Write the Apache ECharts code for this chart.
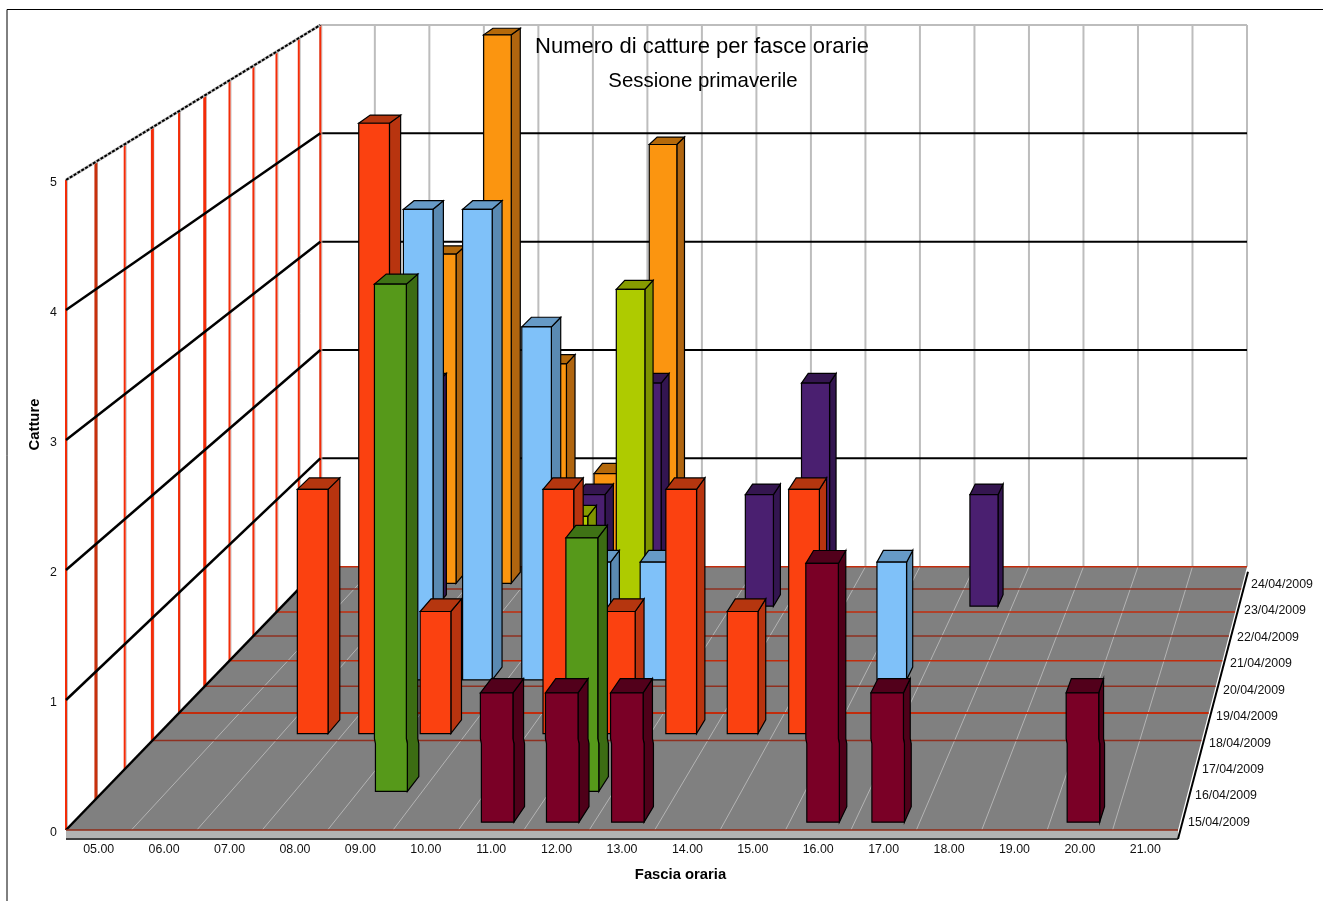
<!DOCTYPE html>
<html lang="en">
<head>
    <meta charset="UTF-8">
    <title>Numero di catture per fasce orarie</title>
    <script src="https://cdn.jsdelivr.net/npm/echarts@6/dist/echarts.min.js"></script>
    <style>
        html, body { margin: 0; padding: 0; background: #fff; }
        #chart_wrap { width: 1323px; height: 901px; }
    </style>
</head>
<body>
<div id="chart_wrap"></div>
<script>
    var hours = ["05.00", "06.00", "07.00", "08.00", "09.00", "10.00", "11.00", "12.00", "13.00",
        "14.00", "15.00", "16.00", "17.00", "18.00", "19.00", "20.00", "21.00"];
    var dates = ["15/04/2009", "16/04/2009", "17/04/2009", "18/04/2009", "19/04/2009",
        "20/04/2009", "21/04/2009", "22/04/2009", "23/04/2009", "24/04/2009"];

    // catture per fascia oraria, 05.00 -> 21.00
    var catture15 = [0, 0, 0, 0, 0, 0, 1, 1, 1, 0, 0, 2, 1, 0, 0, 1, 0];
    var catture16 = [0, 0, 0, 0, 4, 0, 0, 2, 0, 0, 0, 0, 0, 0, 0, 0, 0];
    var catture17 = [0, 0, 0, 0, 0, 0, 0, 0, 0, 0, 0, 0, 0, 0, 0, 0, 0];
    var catture18 = [0, 0, 2, 5, 1, 0, 2, 1, 2, 1, 2, 0, 0, 0, 0, 0, 0];
    var catture19 = [0, 0, 0, 0, 0, 0, 0, 0, 0, 0, 0, 0, 0, 0, 0, 0, 0];
    var catture20 = [0, 0, 0, 4, 4, 3, 1, 1, 0, 0, 0, 1, 0, 0, 0, 0, 0];
    var catture21 = [0, 0, 0, 0, 0, 0, 0, 0, 0, 0, 0, 0, 0, 0, 0, 0, 0];
    var catture22 = [0, 0, 0, 0, 0, 1, 3, 0, 0, 0, 0, 0, 0, 0, 0, 0, 0];
    var catture23 = [0, 0, 2, 0, 0, 1, 2, 0, 1, 2, 0, 0, 1, 0, 0, 0, 0];
    var catture24 = [0, 0, 3, 5, 2, 1, 4, 0, 0, 0, 0, 0, 0, 0, 0, 0, 0];
    var cattureByDate = [catture15, catture16, catture17, catture18, catture19,
        catture20, catture21, catture22, catture23, catture24];

    // front, side, top
    var faceColors = [
        ["#7a0026", "#4f0019", "#52001b"],
        ["#56991a", "#3c6c13", "#3f7215"],
        ["#808080", "#606060", "#606060"],
        ["#fb4110", "#b8340f", "#b5360f"],
        ["#808080", "#606060", "#606060"],
        ["#7fc1f9", "#5a8ab2", "#669ac6"],
        ["#808080", "#606060", "#606060"],
        ["#aecb00", "#7f9300", "#869c00"],
        ["#4a1f70", "#331550", "#351650"],
        ["#fb9510", "#b0650f", "#b5690a"]
    ];

    // the 3D box: everything shrinks towards a vanishing point with depth (0 front, 1 back)
    var VANISH_X = 1592;
    var VANISH_Y = -750;
    var DEPTH_K = 0.2;
    var FONT = "Liberation Sans";
    // the original picture is slightly offset below the 18/04 floor line
    var KINK_DEPTH = 0.3;
    var KINK_SHIFT = 1;

    function project(api, cat, value, depth) {
        var band = api.size([1, 0])[0];
        var p = api.coord([0, value]);
        var s = 1 / (1 + DEPTH_K * depth);
        var x = p[0] - band / 2 + band * cat;
        return [VANISH_X + s * (x - VANISH_X), VANISH_Y + s * (p[1] - VANISH_Y)];
    }

    function line(p1, p2, color, width) {
        return {
            type: "line",
            shape: {x1: p1[0], y1: p1[1], x2: p2[0], y2: p2[1]},
            style: {stroke: color, lineWidth: width}
        };
    }

    function poly(points, color) {
        return {
            type: "polygon",
            shape: {points: points},
            style: {fill: color, stroke: "#000", lineWidth: 1.2}
        };
    }

    // vertical edge from top to bottom, with the little step if it crosses kinkY
    function edge(top, bottom, kinkY) {
        if (bottom[1] <= kinkY || top[1] >= kinkY) {
            return [top, bottom];
        }
        var k = (kinkY - top[1]) / (bottom[1] - top[1]);
        var xk = top[0] + (bottom[0] - top[0]) * k;
        return [top, [xk, kinkY - 2], [xk + KINK_SHIFT, kinkY + 3], [bottom[0] + KINK_SHIFT, bottom[1]]];
    }

    function face(topA, bottomA, topB, bottomB, kinkY, color) {
        // down one edge, back up the other
        var pts = edge(topA, bottomA, kinkY).concat(edge(topB, bottomB, kinkY).reverse());
        return poly(pts, color);
    }

    function renderBox(params, api) {
        var n = hours.length;
        var rows = dates.length;
        var c = [];
        var i;

        // back wall
        c.push({
            type: "polygon",
            shape: {points: [project(api, 0, 5, 1), project(api, n, 5, 1), project(api, n, 0, 1), project(api, 0, 0, 1)]},
            style: {fill: "#fff"}
        });
        for (i = 0; i <= n; i++) {
            c.push(line(project(api, i, 5, 1), project(api, i, 0, 1), "#bdbdbd", 2));
        }
        for (i = 1; i <= 5; i++) {
            c.push(line(project(api, 0, i, 1), project(api, n, i, 1), i === 5 ? "#bdbdbd" : "#000", 2));
        }

        // left wall
        for (i = 0; i <= rows; i++) {
            var d = i / rows;
            var vTop = project(api, 0, 5, d);
            var vBot = project(api, 0, 0, d);
            c.push(line([vTop[0] + 1.5, vTop[1]], [vBot[0] + 1.5, vBot[1]], "#c4c4c4", 1));
            c.push(line(vTop, vBot, i === 1 ? "#c8300c" : "#f32c08", i === 1 || i === 3 || i === 5 ? 3 : 2));
        }
        for (i = 1; i <= 4; i++) {
            c.push(line(project(api, 0, i, 0), project(api, 0, i, 1), "#000", 2.5));
        }
        c.push(line(project(api, 0, 5, 0), project(api, 0, 5, 1), "#bdbdbd", 3));
        var topLine = line(project(api, 0, 5, 0), project(api, 0, 5, 1), "#000", 2);
        topLine.style.lineDash = [3, 1.5];
        c.push(topLine);

        // floor
        c.push({
            type: "polygon",
            shape: {points: [project(api, 0, 0, 0), project(api, n, 0, 0), project(api, n, 0, 1), project(api, 0, 0, 1)]},
            style: {fill: "#808080"}
        });
        for (i = 1; i < n; i++) {
            c.push(line(project(api, i, 0, 0), project(api, i, 0, 1), "#b4b4b4", 1));
        }
        for (i = 3; i <= rows; i++) {
            c.push(line(project(api, 0, 0, i / rows), project(api, n, 0, i / rows), i % 2 ? "#8f3020" : "#c22c0c", i === 4 ? 2 : 1.5));
        }
        c.push(line(project(api, 0, 0, 0), project(api, 0, 0, 1), "#000", 2.5));

        // front edge of the floor
        var fl = project(api, 0, 0, 0);
        var fr = project(api, n, 0, 0);
        var br = project(api, n, 0, 1);
        c.push({
            type: "rect",
            shape: {x: fl[0], y: fl[1], width: fr[0] - fl[0], height: 8},
            style: {fill: "#b2b2b2"}
        });
        c.push(line([fl[0], fl[1] + 9], [fr[0], fr[1] + 9], "#000", 1.5));
        c.push(line(fl, fr, "#8f2a16", 1.5));
        c.push(line([fr[0], fr[1] + 9], [br[0] + 1, br[1] + 5], "#000", 2));
        return {type: "group", children: c};
    }

    function makeRenderBar(row) {
        return function (params, api) {
            var cat = api.value(0);
            var v = api.value(1);
            if (!v) {
                return null;
            }
            var dFront = (row + 0.25) / dates.length;
            var dBack = (row + 0.75) / dates.length;
            var x1 = cat + 0.25;
            var x2 = cat + 0.75;
            var colors = faceColors[row];
            var kinkY = project(api, 0, 0, KINK_DEPTH)[1];
            return {
                type: "group",
                children: [
                    face(project(api, x2, v, dFront), project(api, x2, 0, dFront), project(api, x2, v, dBack), project(api, x2, 0, dBack), kinkY, colors[1]),
                    poly([project(api, x1, v, dFront), project(api, x2, v, dFront), project(api, x2, v, dBack), project(api, x1, v, dBack)], colors[2]),
                    face(project(api, x1, v, dFront), project(api, x1, 0, dFront), project(api, x2, v, dFront), project(api, x2, 0, dFront), kinkY, colors[0])
                ]
            };
        };
    }

    function renderDateLabel(params, api) {
        var corner = project(api, hours.length, 0, 0);
        var row = api.value(0);
        return {
            type: "text",
            style: {
                x: corner[0] + 10 + 7 * row,
                y: corner[1] - 7.5 - 26.45 * row,
                text: dates[row],
                fill: "#111",
                font: "12.4px '" + FONT + "'",
                textAlign: "left",
                textVerticalAlign: "middle"
            }
        };
    }

    var series = [{
        type: "custom",
        name: "box",
        silent: true,
        data: [[0, 0]],
        renderItem: renderBox
    }];

    // back row first so the nearer bars cover it
    for (var r = dates.length - 1; r >= 0; r--) {
        var rowData = [];
        for (var h = 0; h < hours.length; h++) {
            rowData.push([h, cattureByDate[r][h]]);
        }
        series.push({
            type: "custom",
            name: dates[r],
            silent: true,
            data: rowData,
            renderItem: makeRenderBar(r)
        });
    }

    series.push({
        type: "custom",
        name: "date labels",
        silent: true,
        data: dates.map(function (d, i) { return [i, 0]; }),
        renderItem: renderDateLabel
    });

    var myChart = echarts.init(document.getElementById("chart_wrap"));

    var option = {
        animation: false,
        backgroundColor: "#fff",
        textStyle: {fontFamily: FONT},
        title: [
            {
                text: "Numero di catture per fasce orarie",
                left: 697,
                top: 31,
                textAlign: "center",
                textStyle: {fontFamily: FONT, fontSize: 22, fontWeight: "normal", color: "#000"}
            },
            {
                text: "Sessione primaverile",
                left: 698,
                top: 66,
                textAlign: "center",
                textStyle: {fontFamily: FONT, fontSize: 20.4, fontWeight: "normal", color: "#000"}
            }
        ],
        grid: {left: 66, top: 180, width: 1112, height: 650},
        xAxis: {
            type: "category",
            data: hours,
            axisLine: {show: false},
            axisTick: {show: false},
            axisLabel: {fontSize: 12.4, color: "#111", margin: 14, interval: 0, fontFamily: FONT}
        },
        yAxis: {
            type: "value",
            min: 0,
            max: 5,
            interval: 1,
            axisLine: {show: false},
            axisTick: {show: false},
            splitLine: {show: false},
            axisLabel: {
                margin: 9,
                formatter: "{tick|{value}}",
                rich: {
                    tick: {fontSize: 12.4, color: "#111", fontFamily: FONT, padding: [5, 0, 0, 0]}
                }
            }
        },
        graphic: [
            {
                type: "polyline",
                silent: true,
                shape: {points: [[7, 901], [7, 9.5], [1323, 9.5]]},
                style: {stroke: "#000", lineWidth: 1, fill: null}
            },
            {
                type: "text",
                silent: true,
                x: 35,
                y: 424.5,
                rotation: Math.PI / 2,
                style: {
                    text: "Catture",
                    fill: "#000",
                    font: "bold 14.8px '" + FONT + "'",
                    textAlign: "center",
                    textVerticalAlign: "middle"
                }
            },
            {
                type: "text",
                silent: true,
                x: 680.5,
                y: 875,
                style: {
                    text: "Fascia oraria",
                    fill: "#000",
                    font: "bold 14.8px '" + FONT + "'",
                    textAlign: "center",
                    textVerticalAlign: "middle"
                }
            }
        ],
        series: series
    };

    myChart.setOption(option);
</script>
</body>
</html>
